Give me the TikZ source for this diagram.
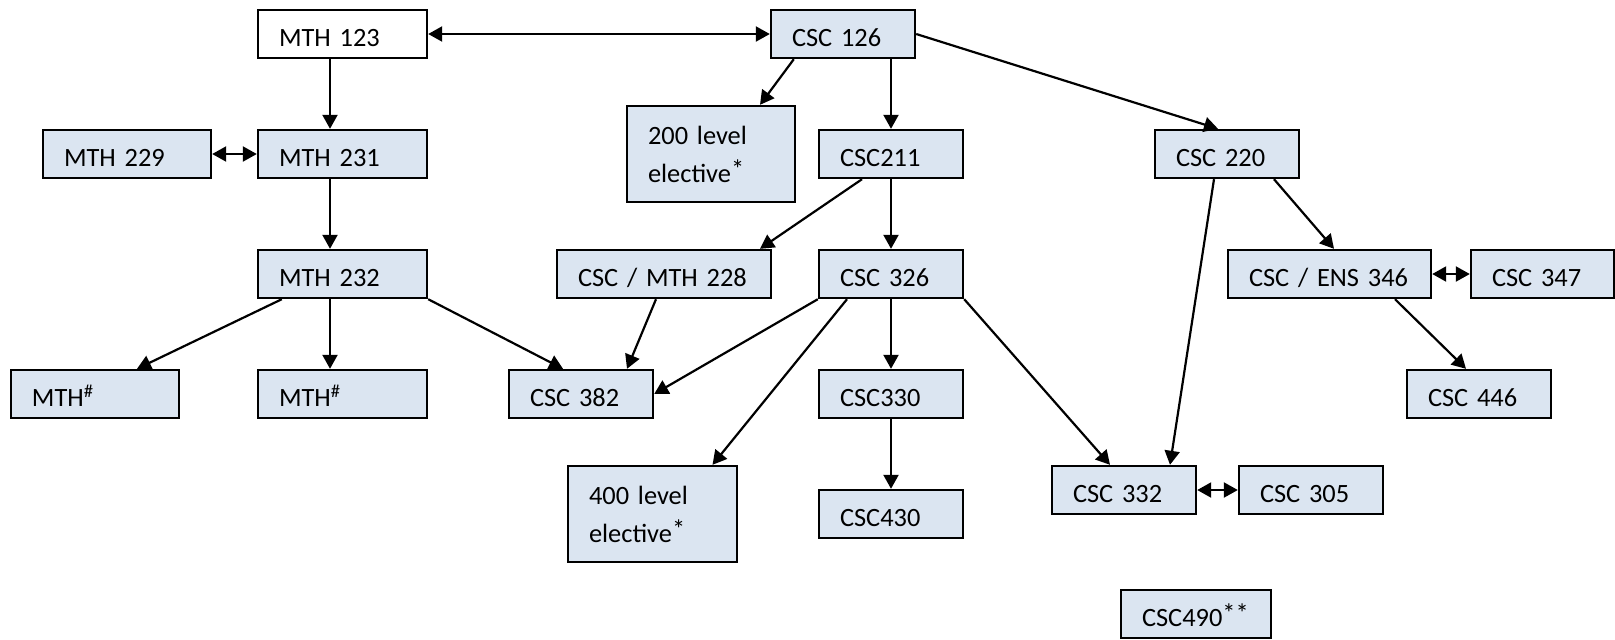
\documentclass[tikz,border=0pt]{standalone}
\usepackage{fontspec}
\setmainfont{Carlito}[WordSpace=0.9]
\usetikzlibrary{arrows.meta}
\definecolor{boxblue}{HTML}{DBE5F1}
\newcommand{\upstar}{\raisebox{0.12em}{*}}
\begin{document}
\begin{tikzpicture}[x=0.5pt,y=-0.5pt,
 course/.style={draw,line width=1.2pt,fill=boxblue,inner xsep=10.5pt,inner ysep=0pt,align=left,font=\fontsize{13.2}{19}\selectfont},
 oneline/.style={course,minimum height=24pt,text height=12pt,text depth=0pt},
 twoline/.style={course,minimum height=48pt},
 req/.style={line width=1.1pt,-{Triangle[length=7pt,width=7.5pt]}},
 coreq/.style={line width=1.1pt,{Triangle[length=7pt,width=7.5pt]}-{Triangle[length=7pt,width=7.5pt]}}]
 \useasboundingbox (0,0) rectangle (1615,639);
 \node[oneline,fill=white,text width=63.5pt] (m123) at (342.5,34) {MTH 123};
 \node[oneline,text width=51pt] (c126) at (843,34) {CSC 126};
 \node[oneline,text width=63pt] (m229) at (127,154) {MTH 229};
 \node[oneline,text width=63.5pt] (m231) at (342.5,154) {MTH 231};
 \node[twoline,text width=63pt] (e200) at (711,154) {200 level\\elective\upstar};
 \node[oneline,text width=51pt] (c211) at (891,154) {CSC211};
 \node[oneline,text width=51pt] (c220) at (1227,154) {CSC 220};
 \node[oneline,text width=63.5pt] (m232) at (342.5,274) {MTH 232};
 \node[oneline,text width=86pt] (c228) at (664,274) {CSC / MTH 228};
 \node[oneline,text width=51pt] (c326) at (891,274) {CSC 326};
 \node[oneline,text width=80.5pt] (c346) at (1329.5,274) {CSC / ENS 346};
 \node[oneline,text width=50.5pt] (c347) at (1542.5,274) {CSC 347};
 \node[oneline,text width=63pt] (mtha) at (95,394) {MTH\textsuperscript{\#}};
 \node[oneline,text width=63.5pt] (mthb) at (342.5,394) {MTH\textsuperscript{\#}};
 \node[oneline,text width=51pt] (c382) at (581,394) {CSC 382};
 \node[oneline,text width=51pt] (c330) at (891,394) {CSC330};
 \node[oneline,text width=51pt] (c446) at (1479,394) {CSC 446};
 \node[twoline,text width=63.5pt] (e400) at (652.5,514) {400 level\\elective\upstar};
 \node[oneline,text width=51pt] (c430) at (891,514) {CSC430};
 \node[oneline,text width=51pt] (c332) at (1124,490) {CSC 332};
 \node[oneline,text width=51pt] (c305) at (1311,490) {CSC 305};
 \node[oneline,text width=54pt] (c490) at (1196,614) {CSC490\upstar\upstar};
 \draw[coreq] (m123.east) -- (c126.west);
 \draw[coreq] (m229.east) -- (m231.west);
 \draw[coreq] (c346.east) -- (c347.west);
 \draw[coreq] (c332.east) -- (c305.west);
 \draw[req] ([xshift=-6.25pt]m123.south) -- ([xshift=-6.25pt]m231.north);
 \draw[req] ([xshift=-6.25pt]m231.south) -- ([xshift=-6.25pt]m232.north);
 \draw[req] ([xshift=-6.25pt]m232.south) -- ([xshift=-6.25pt]mthb.north);
 \draw[req] ([xshift=12.5pt]m232.south west) -- ([xshift=21pt]mtha.north);
 \draw[req] (m232.south east) -- ([xshift=-9pt]c382.north);
 \draw[req] ([xshift=12pt]c126.south west) -- ([xshift=24.5pt]e200.north);
 \draw[req] (c126.south -| c211.north) -- (c211.north);
 \draw[req] (c126.east) -- ([xshift=-4.5pt]c220.north);
 \draw[req] ([xshift=-14.5pt]c211.south) -- ([xshift=48pt]c228.north);
 \draw[req] (c211.south) -- (c326.north);
 \draw[req] ([xshift=-4pt]c228.south) -- ([xshift=23pt]c382.north);
 \draw[req] (c326.south west) -- (c382.east);
 \draw[req] ([xshift=-22pt]c326.south) -- ([xshift=30pt]e400.north);
 \draw[req] (c326.south) -- (c330.north);
 \draw[req] (c326.south east) -- ([xshift=-7pt]c332.north);
 \draw[req] (c330.south) -- (c430.north);
 \draw[req] ([xshift=-6.5pt]c220.south) -- ([xshift=23pt]c332.north);
 \draw[req] ([xshift=23.5pt]c220.south) -- ([xshift=2.25pt]c346.north);
 \draw[req] ([xshift=32.75pt]c346.south) -- ([xshift=-6.5pt]c446.north);
\end{tikzpicture}
\end{document}
